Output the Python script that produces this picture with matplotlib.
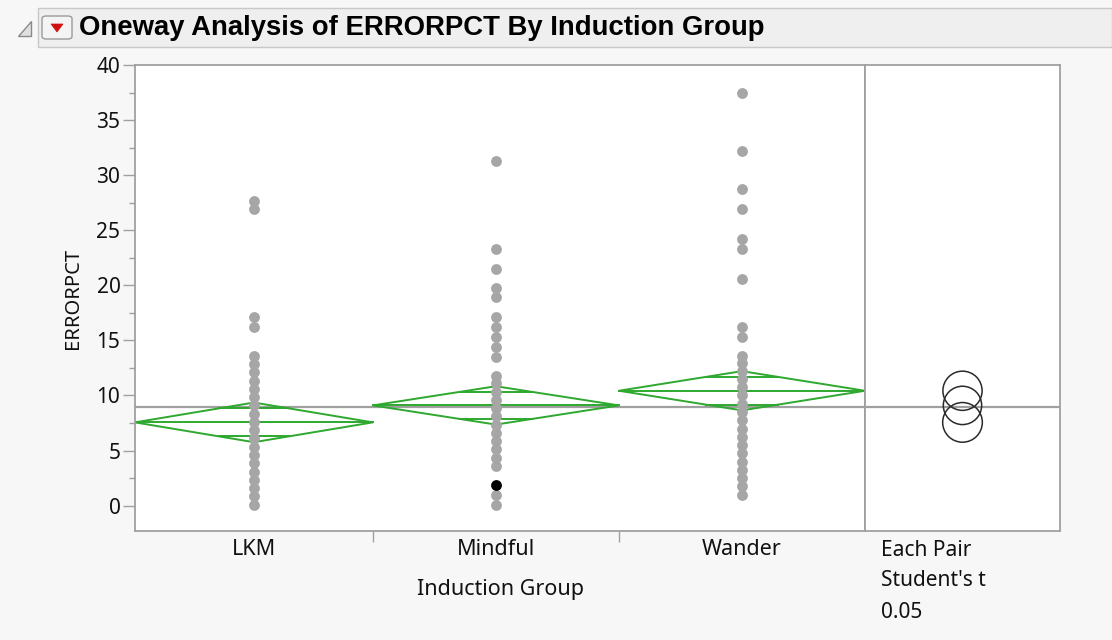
import matplotlib
matplotlib.use("Agg")
import matplotlib.pyplot as plt
from matplotlib.patches import Polygon, Circle, Rectangle, FancyBboxPatch
import numpy as np

# ---------------- data ----------------
groups = ["LKM", "Mindful", "Wander"]
group_n = [29, 30, 30]
lkm_values = [0.1, 0.85, 1.6, 2.35, 3.1, 3.85, 4.6, 5.35, 6.1, 6.85, 7.6, 8.35,
              9.1, 9.85, 10.6, 11.35, 12.1, 12.85, 13.6, 16.2, 17.1, 26.9, 27.7]
mindful_values = [0.1, 1.0, 3.6, 4.35, 5.1, 5.85, 6.6, 7.35, 8.1, 8.85, 9.6, 10.35,
                  11.1, 11.8, 13.5, 14.4, 15.3, 16.2, 17.1, 18.9, 19.8, 21.5, 23.3,
                  31.3]
wander_values = [1.0, 1.75, 2.5, 3.25, 4.0, 4.75, 5.5, 6.25, 7.0, 7.75, 8.5, 9.25,
                 10.0, 10.75, 11.5, 12.25, 12.95, 13.6, 15.3, 16.2, 20.6, 23.3,
                 24.2, 26.9, 28.7, 32.2, 37.5]
highlight_group = "Mindful"
highlight_value = 1.9
group_means = [7.56, 9.10, 10.43]
group_ci = [1.80, 1.74, 1.78]
grand_mean = 9.0
y_ticks = [0, 5, 10, 15, 20, 25, 30, 35, 40]
compare_labels = ["Each Pair", "Student's t", "0.05"]
title = "Oneway Analysis of ERRORPCT By Induction Group"

W, H = 1112, 640
fig = plt.figure(figsize=(W / 100, H / 100), dpi=100)
fig.patch.set_facecolor("#f7f7f7")

def fx(px):
    return px / W

def fy(py):
    return 1 - py / H

FONT = ["Noto Sans", "DejaVu Sans"]
GRAY = "#a6a6a6"
SPINE = "#a0a0a0"
GREEN = "#2ea82e"
TXT = "#111111"

# ---------------- title bar ----------------
fig.patches.append(Rectangle((fx(38), fy(47)), fx(1112) - fx(38), fy(8) - fy(47),
                             transform=fig.transFigure, facecolor="#efefef",
                             edgecolor="#c8c8c8", linewidth=1.0))
# disclosure triangle
fig.patches.append(Polygon([(fx(18), fy(36)), (fx(31), fy(36)), (fx(31), fy(21))],
                           closed=True, transform=fig.transFigure,
                           facecolor="#e0e0e0", edgecolor="#8a8a8a", linewidth=1.0))
# red triangle button
fig.patches.append(FancyBboxPatch((fx(42), fy(39)), fx(72) - fx(42), fy(16) - fy(39),
                                  boxstyle="round,pad=0,rounding_size=0.004",
                                  transform=fig.transFigure, facecolor="#f4f4f4",
                                  edgecolor="#9a9a9a", linewidth=1.0))
fig.patches.append(Polygon([(fx(51), fy(24)), (fx(63), fy(24)), (fx(57), fy(32))],
                           closed=True, transform=fig.transFigure,
                           facecolor="#d01010", edgecolor="#d01010", linewidth=0.5))
fig.text(fx(79), fy(28), title, fontsize=19.8, fontweight="bold",
         family=["Liberation Sans", "DejaVu Sans"], ha="left", va="center", color="black")

# ---------------- main axes ----------------
L, R, T, B = 135, 865, 65, 531
ax = fig.add_axes([fx(L), fy(B), fx(R) - fx(L), fy(T) - fy(B)])
ax.set_facecolor("white")

bounds = np.concatenate([[0], np.cumsum(group_n)])
centers = (bounds[:-1] + bounds[1:]) / 2
ax.set_xlim(bounds[0], bounds[-1])
ax.set_ylim(-2.3, 40)

# grand mean line
ax.axhline(grand_mean, color=SPINE, linewidth=1.6, zorder=1)

# means diamonds
for i in range(len(groups)):
    x0, x1, xc = bounds[i], bounds[i + 1], centers[i]
    m, ci = group_means[i], group_ci[i]
    ax.add_patch(Polygon([(x0, m), (xc, m + ci), (x1, m), (xc, m - ci)], closed=True,
                         fill=False, edgecolor=GREEN, linewidth=1.4, zorder=2))
    ax.plot([x0, x1], [m, m], color=GREEN, linewidth=1.4, zorder=2)
    half = (x1 - x0) / 2 * (1 - 1 / np.sqrt(2))
    for s in (1, -1):
        yy = m + s * ci / np.sqrt(2)
        ax.plot([xc - half, xc + half], [yy, yy], color=GREEN, linewidth=1.4, zorder=2)

# points
all_vals = [lkm_values, mindful_values, wander_values]
for i, vals in enumerate(all_vals):
    ax.plot(np.full(len(vals), centers[i]), vals, "o", color=GRAY, markersize=7.8,
            markeredgewidth=0, zorder=3)
hi = groups.index(highlight_group)
ax.plot([centers[hi]], [highlight_value], "o", color="black", markersize=7.8,
        markeredgewidth=0, zorder=4)

# axes styling
for sp in ax.spines.values():
    sp.set_color(SPINE)
    sp.set_linewidth(1.3)
ax.set_yticks(y_ticks)
ax.set_yticks(np.arange(2.5, 40, 5), minor=True)
ax.tick_params(axis="y", which="major", length=8.5, width=1.0, color=SPINE,
               labelsize=15, pad=2, labelcolor=TXT)
ax.tick_params(axis="y", which="minor", length=4.3, width=1.0, color=SPINE)
for lab in ax.get_yticklabels():
    lab.set_family(FONT)
ax.set_xticks(centers)
ax.set_xticklabels(groups, fontsize=15.5, family=FONT, color=TXT)
ax.set_xticks(bounds[1:-1], minor=True)
ax.tick_params(axis="x", which="major", length=0, pad=6)
ax.tick_params(axis="x", which="minor", length=8, width=1.0, color=SPINE)
ax.set_ylabel("ERRORPCT", fontsize=14.5, family=FONT, color=TXT, labelpad=10)
fig.text((fx(L) + fx(R)) / 2, fy(590), "Induction Group", fontsize=15.5, family=FONT,
         ha="center", va="center", color=TXT)

# ---------------- comparison circles panel ----------------
R2 = 1060
ax2 = fig.add_axes([fx(R), fy(B), fx(R2) - fx(R), fy(T) - fy(B)])
ax2.set_facecolor("white")
ax2.set_ylim(-2.3, 40)
ax2.set_xlim(-10, 10)
ax2.set_aspect("equal", adjustable="datalim")
ax2.axhline(grand_mean, color=SPINE, linewidth=1.6, zorder=1)
for m, ci in zip(group_means, group_ci):
    ax2.add_patch(Circle((0, m), ci, fill=False, edgecolor="#2a2a2a", linewidth=1.1,
                         zorder=3))
ax2.set_xticks([])
ax2.set_yticks([])
for sp in ax2.spines.values():
    sp.set_color(SPINE)
    sp.set_linewidth(1.3)

for k, t in enumerate(compare_labels):
    fig.text(fx(881), fy(550 + 31 * k), t, fontsize=15, family=FONT, ha="left",
             va="center", color=TXT)

fig.savefig("out.png", dpi=100, facecolor=fig.get_facecolor())
